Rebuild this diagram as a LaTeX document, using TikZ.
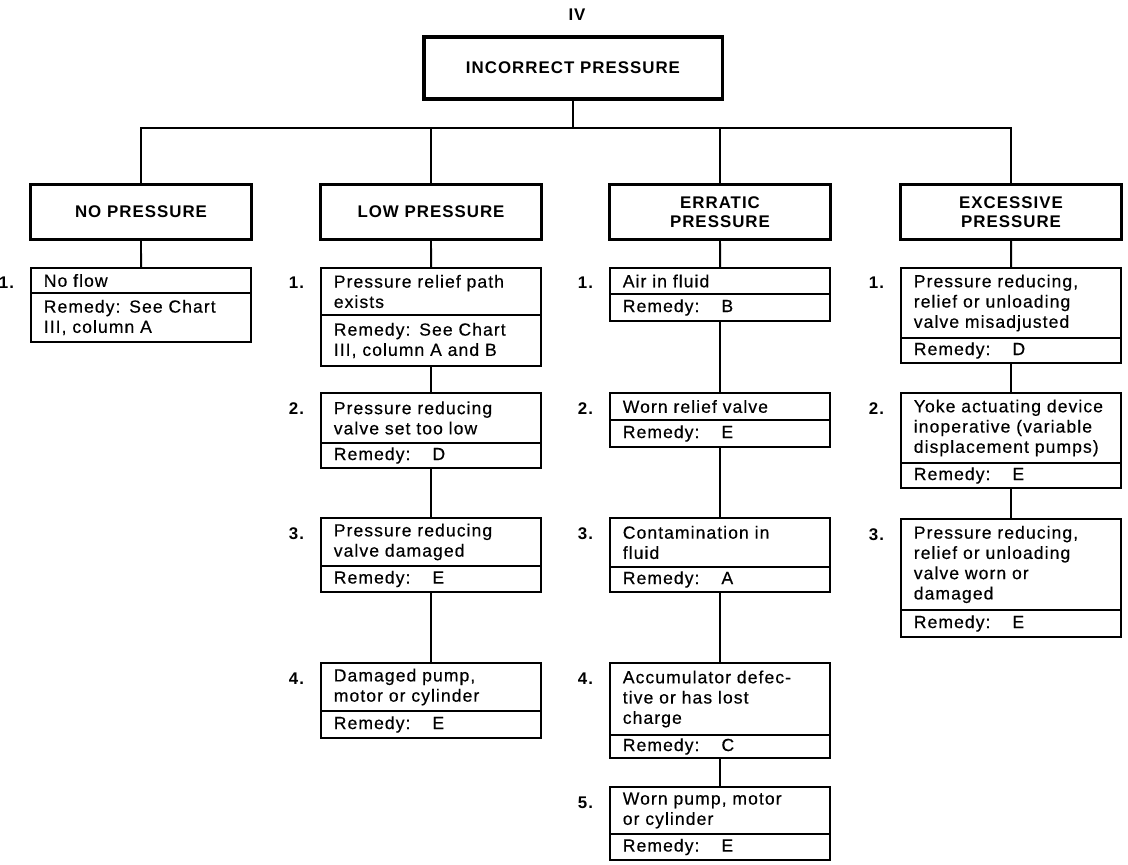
\documentclass[tikz,border=0pt]{standalone}
\usepackage{fontspec}
\setmainfont{Liberation Sans}[LetterSpace=6]
\usetikzlibrary{calc}

% boxes of the chart, sizes in pixels (x=y=0.025cm)
\tikzset{
	head/.style={draw, line width=2.2pt, minimum width=5.525cm, minimum height=1.375cm, align=center, font=\fontsize{12}{13.5}\selectfont\bfseries},
	cause/.style={draw, line width=2pt, outer sep=0pt, anchor=north west, text width=4.86cm, inner xsep=0.32cm, inner ysep=0pt, minimum height=#1*0.025cm, align=left, font=\fontsize{12.5}{14.4}\selectfont\addfontfeatures{FakeBold=0.4}},
	num/.style={anchor=base east, font=\fontsize{12}{14}\selectfont\bfseries},
	link/.style={line width=1.4pt}
}

\begin{document}
\begin{tikzpicture}[x=0.025cm, y=-0.025cm, font=\fontsize{12}{14.2}\selectfont]
	\useasboundingbox (0,0) rectangle (1128,865);

	\node (chart) at (577,15) {\bfseries IV};
	\node (top) at (573,68) [head, minimum width=7.45cm, minimum height=1.55cm] {INCORRECT PRESSURE};

	\node (no) at (141,212) [head] {NO PRESSURE};
	\node (low) at (431,212) [head] {LOW PRESSURE};
	\node (err) at (720,212) [head] {ERRATIC\\PRESSURE};
	\node (exc) at (1011,212) [head] {EXCESSIVE\\PRESSURE};

	\coordinate (bus) at (573,128);
	\draw[link] (top.south) -- (bus);
	\draw[link] (no.north) |- (bus) -| (exc.north);
	\draw[link] (low.north) -- (low.north |- bus);
	\draw[link] (err.north) -- (err.north |- bus);

	% no pressure
	\node (no1) at (31,268) [cause=25] {No flow};
	\node (no1r) at (no1.south west) [cause=49] {Remedy: See Chart\\III, column A};

	% low pressure
	\node (low1) at (321,268) [cause=47] {Pressure relief path\\exists};
	\node (low1r) at (low1.south west) [cause=51] {Remedy: See Chart\\III, column A and B};
	\node (low2) at (321,393) [cause=50] {Pressure reducing\\valve set too low};
	\node (low2r) at (low2.south west) [cause=25] {Remedy:\hspace{0.55cm}D};
	\node (low3) at (321,518) [cause=48] {Pressure reducing\\valve damaged};
	\node (low3r) at (low3.south west) [cause=26] {Remedy:\hspace{0.55cm}E};
	\node (low4) at (321,663) [cause=48] {Damaged pump,\\motor or cylinder};
	\node (low4r) at (low4.south west) [cause=27] {Remedy:\hspace{0.55cm}E};

	% erratic pressure
	\node (err1) at (610,268) [cause=26] {Air in fluid};
	\node (err1r) at (err1.south west) [cause=27] {Remedy:\hspace{0.55cm}B};
	\node (err2) at (610,393) [cause=27] {Worn relief valve};
	\node (err2r) at (err2.south west) [cause=27] {Remedy:\hspace{0.55cm}E};
	\node (err3) at (610,518) [cause=49] {Contamination in\\fluid};
	\node (err3r) at (err3.south west) [cause=25] {Remedy:\hspace{0.55cm}A};
	\node (err4) at (610,663) [cause=72] {Accumulator defec-\\tive or has lost\\charge};
	\node (err4r) at (err4.south west) [cause=23] {Remedy:\hspace{0.55cm}C};
	\node (err5) at (610,787) [cause=47] {Worn pump, motor\\or cylinder};
	\node (err5r) at (err5.south west) [cause=26] {Remedy:\hspace{0.55cm}E};

	% excessive pressure
	\node (exc1) at (901,268) [cause=70] {Pressure reducing,\\relief or unloading\\valve misadjusted};
	\node (exc1r) at (exc1.south west) [cause=25] {Remedy:\hspace{0.55cm}D};
	\node (exc2) at (901,393) [cause=70] {Yoke actuating device\\inoperative (variable\\displacement pumps)};
	\node (exc2r) at (exc2.south west) [cause=25] {Remedy:\hspace{0.55cm}E};
	\node (exc3) at (901,519) [cause=91] {Pressure reducing,\\relief or unloading\\valve worn or\\damaged};
	\node (exc3r) at (exc3.south west) [cause=27] {Remedy:\hspace{0.55cm}E};

	% item numbers
	\foreach \cell/\n in {no1/1, low1/1, low2/2, low3/3, low4/4, err1/1, err2/2, err3/3, err4/4, err5/5, exc1/1, exc2/2, exc3/3}
		\node (\cell num) at ($(\cell.north west)+(-12,21)$) [num] {\n.};

	% connectors down each column
	\draw[link] (no.south) -- (no1.north);
	\draw[link] (low.south) -- (low1.north);
	\draw[link] (low1r.south) -- (low2.north);
	\draw[link] (low2r.south) -- (low3.north);
	\draw[link] (low3r.south) -- (low4.north);
	\draw[link] (err.south) -- (err1.north);
	\draw[link] (err1r.south) -- (err2.north);
	\draw[link] (err2r.south) -- (err3.north);
	\draw[link] (err3r.south) -- (err4.north);
	\draw[link] (err4r.south) -- (err5.north);
	\draw[link] (exc.south) -- (exc1.north);
	\draw[link] (exc1r.south) -- (exc2.north);
	\draw[link] (exc2r.south) -- (exc3.north);
\end{tikzpicture}
\end{document}
